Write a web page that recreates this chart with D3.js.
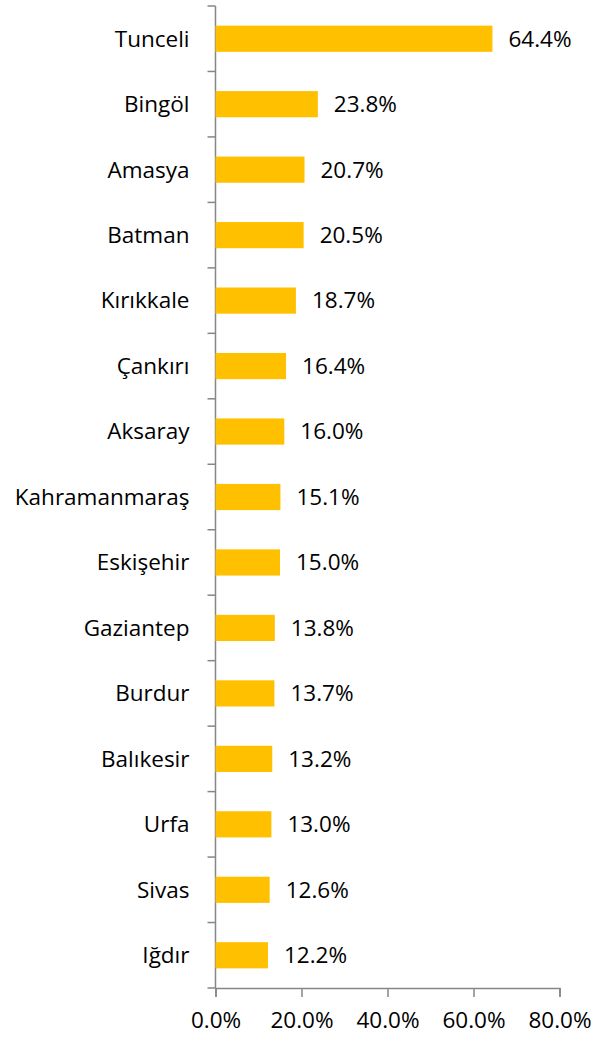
<!DOCTYPE html>
<html>
<head>
<meta charset="utf-8">
<script src="https://cdn.jsdelivr.net/npm/d3@7"></script>
<style>
	body { margin: 0; background: #fff; }
	text { font-family: "Open Sans", sans-serif; fill: #000; }
</style>
</head>
<body>
<script>
var provinces = ['Tunceli', 'Bingöl', 'Amasya', 'Batman', 'Kırıkkale', 'Çankırı', 'Aksaray',
	'Kahramanmaraş', 'Eskişehir', 'Gaziantep', 'Burdur', 'Balıkesir', 'Urfa', 'Sivas', 'Iğdır'];
var shares = [64.4, 23.8, 20.7, 20.5, 18.7, 16.4, 16.0, 15.1, 15.0, 13.8, 13.7, 13.2, 13.0, 12.6, 12.2];
var tickValues = [0, 20, 40, 60, 80];

var width = 606,
	height = 1039;
var padding = {left: 215.5, right: 46.5, top: 6, bottom: 51};
var fontSize = 22.5;

var svg = d3.select('body')
	.append('svg')
	.attr('width', width)
	.attr('height', height);

var chartContent = svg.append('g').attr('transform', `translate(${padding.left}, ${padding.top})`);
var innerW = width - padding.left - padding.right,
	innerH = height - padding.top - padding.bottom;

var xScale = d3.scaleLinear()
	.domain([0, 80])
	.range([0, innerW]);

var yScale = d3.scaleBand()
	.domain(provinces)
	.range([0, innerH])
	.paddingInner(0.6)
	.paddingOuter(0.3);

// category axis: ticks sit on band boundaries, like Excel
var bandStep = innerH / provinces.length;
var yAxis = chartContent.append('g');
yAxis.append('line')
	.attr('x1', 0).attr('x2', 0)
	.attr('y1', 0).attr('y2', innerH)
	.attr('stroke', '#868686').attr('stroke-width', 1.5);
yAxis.selectAll('.ytick')
	.data(d3.range(provinces.length + 1))
	.enter()
	.append('line')
	.attr('x1', -8).attr('x2', 0)
	.attr('y1', i => i * bandStep).attr('y2', i => i * bandStep)
	.attr('stroke', '#868686').attr('stroke-width', 1.5);

yAxis.selectAll('.ylabel')
	.data(provinces)
	.enter()
	.append('text')
	.attr('x', -26)
	.attr('y', d => yScale(d) + yScale.bandwidth() / 2)
	.attr('dy', '0.35em')
	.attr('text-anchor', 'end')
	.attr('font-size', fontSize)
	.text(d => d);

var xAxis = d3.axisBottom(xScale)
	.tickValues(tickValues)
	.tickSize(9)
	.tickPadding(15)
	.tickFormat(d => d.toFixed(1) + '%');

var xg = chartContent.append('g').attr('transform', `translate(0, ${innerH})`).call(xAxis);
xg.select('.domain').attr('stroke', '#868686').attr('stroke-width', 1.5);
xg.selectAll('.tick line').attr('stroke', '#868686').attr('stroke-width', 1.5);
xg.selectAll('.tick text').attr('font-size', fontSize).attr('font-family', '"Open Sans", sans-serif').attr('fill', '#000');

var chart = chartContent.selectAll('.bar')
	.data(provinces)
	.enter()
	.append('g');

chart.append('rect')
	.attr('x', 0)
	.attr('y', d => yScale(d))
	.attr('width', (d, i) => xScale(shares[i]))
	.attr('height', yScale.bandwidth())
	.attr('fill', '#FFC000');

chart.append('text')
	.attr('x', (d, i) => xScale(shares[i]) + 16)
	.attr('y', d => yScale(d) + yScale.bandwidth() / 2)
	.attr('dy', '0.35em')
	.attr('font-size', fontSize)
	.text((d, i) => shares[i].toFixed(1) + '%');
</script>
</body>
</html>
